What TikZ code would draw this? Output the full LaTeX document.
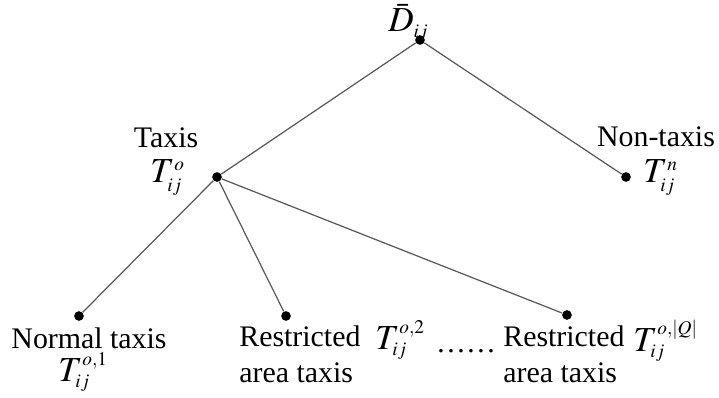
\documentclass[tikz,border=0pt]{standalone}
\usepackage{mathptmx}
\usepackage{fontspec}
\setmainfont{Liberation Serif}
\usepackage{tikz}
\usetikzlibrary{positioning}
\DeclareMathSizes{20}{20}{11}{8}

\tikzset{
  leaf/.style={circle,fill=black,inner sep=0pt,minimum size=5.5pt},
  edge/.style={draw=black!65,line width=0.7pt},
  lbl/.style={inner sep=0pt,font=\fontsize{17}{20}\selectfont},
  sym/.style={inner sep=0pt,anchor=base west,font=\fontsize{20}{24}\selectfont},
}

\begin{document}
\begin{tikzpicture}[x=0.02cm,y=-0.02cm]
\useasboundingbox (0,0) rectangle (719,398);
% tree points
\node[leaf] (root) at (420,40) {};
\node[leaf] (taxi) at (217,177) {};
\node[leaf] (nontaxi) at (626,177) {};
\node[leaf] (normal) at (79,316) {};
\node[leaf] (restr) at (286,316) {};
\node[leaf] (restrq) at (567,315) {};
\draw[edge] (root) -- (taxi);
\draw[edge] (root) -- (nontaxi);
\draw[edge] (taxi) -- (normal);
\draw[edge] (taxi) -- (restr);
\draw[edge] (taxi) -- (restrq);
% labels
\node[sym] (dbar) at (388,32) {$\bar{D}_{ij}$};
\node[lbl,anchor=base] (taxitxt) at (166,148) {Taxis};
\node[sym] (taxit) at (150,183) {$T_{ij}^{o}$};
\node[lbl,anchor=base] (nontxt) at (656,147) {Non-taxis};
\node[sym] (nont) at (643,183) {$T_{ij}^{n}$};
\node[lbl,anchor=base] (normtxt) at (89,348) {Normal taxis};
\node[sym] (normt) at (58,381) {$T_{ij}^{o,1}$};
\node[lbl,anchor=base west,align=left] (restrtxt) at (239,382) {Restricted\\area taxis};
\node[sym] (restrt) at (375,349) {$T_{ij}^{o,2}$};
\node[lbl,anchor=base] (dots) at (466,352) {\ldots\ldots};
\node[lbl,anchor=base west,align=left] (restrqtxt) at (503,382) {Restricted\\area taxis};
\node[sym] (restrqt) at (633,351) {$T_{ij}^{o,|Q|}$};
\end{tikzpicture}
\end{document}
